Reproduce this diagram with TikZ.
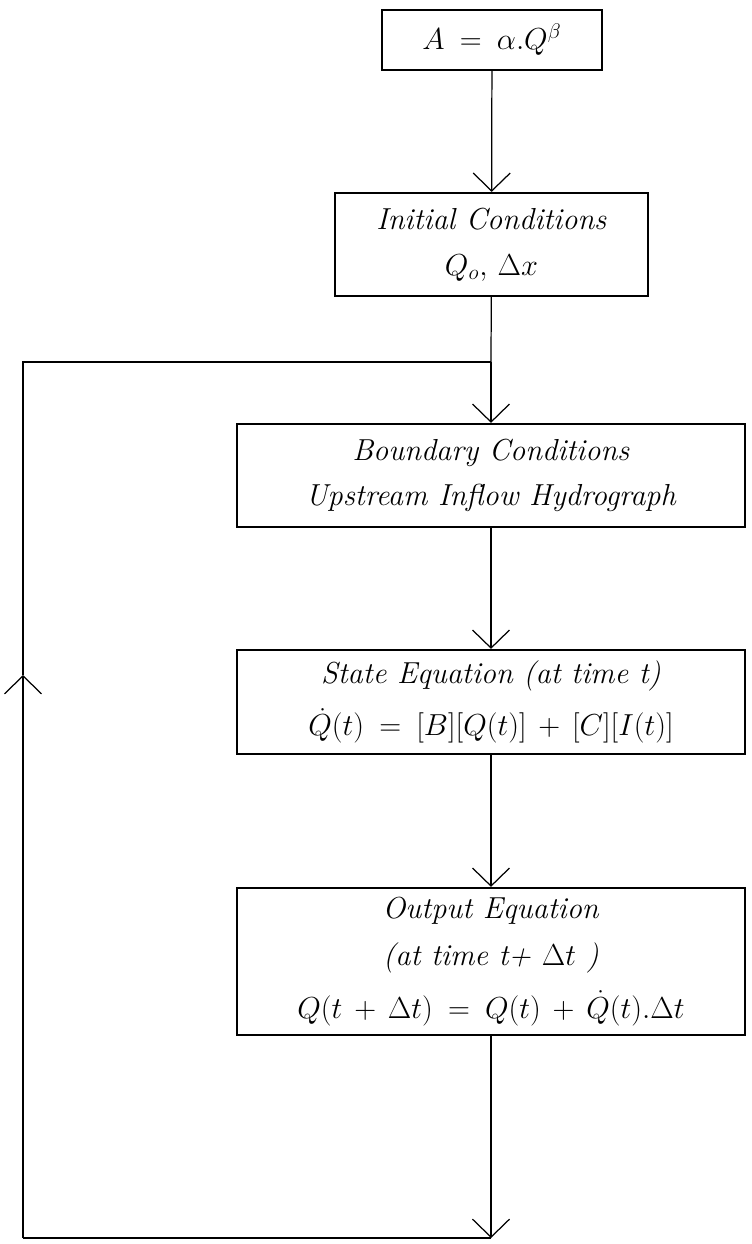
\documentclass[tikz,border=0pt]{standalone}
\usetikzlibrary{arrows.meta}
\tikzset{
  blk/.style={draw, line width=1.3pt, inner sep=0pt, align=center, font=\LARGE},
  flow/.style={line width=0.7pt, -{Straight Barb[length=0.36cm,width=0.74cm,line width=0.7pt]}},
  wire/.style={line width=0.7pt}
}
\newcommand{\wideops}{\thickmuskip=9mu plus 2mu\medmuskip=7mu plus 2mu}
\begin{document}
\begin{tikzpicture}[x=0.02cm,y=-0.02cm]
  \useasboundingbox (0,0) rectangle (751,1244);
  \node[blk, minimum width=4.4cm, minimum height=1.2cm] (eqn) at (492,40) {$\wideops A = \alpha.Q^\beta$};
  \node[blk, minimum width=6.26cm, minimum height=2.06cm] (init) at (491.5,244.5)
    {\textit{Initial Conditions}\\[4pt] $Q_o,\, \Delta x$};
  \node[blk, minimum width=10.16cm, minimum height=2.06cm] (bound) at (491,475.5)
    {\textit{Boundary Conditions}\\[4pt] \textit{Upstream Inflow Hydrograph}};
  \node[blk, minimum width=10.16cm, minimum height=2.08cm] (state) at (491,702)
    {\textit{State Equation (at time t)}\\[8pt] $\wideops \dot{Q}(t) = [B][Q(t)] + [C][I(t)]$};
  \node[blk, minimum width=10.16cm, minimum height=2.94cm] (output) at (491,961.5)
    {\textit{Output Equation}\\[5pt] \textit{(at time t+ $\Delta t$ )}\\[8pt] $\wideops Q(t + \Delta t) = Q(t) + \dot{Q}(t).\Delta t$};
  % loop back
  \coordinate (join) at (491,362);
  \coordinate (bot) at (491,1238);
  \coordinate (botleft) at (23,1238);
  \coordinate (mid) at (23,675);
  \coordinate (topleft) at (23,362);
  \draw[flow] (eqn) -- (init);
  \draw[wire] (init) -- (join);
  \draw[flow] (join) -- (bound);
  \draw[flow] (bound) -- (state);
  \draw[flow] (state) -- (output);
  \draw[flow] (output) -- (bot);
  \draw[wire] (bot) -- (botleft);
  \draw[flow] (botleft) -- (mid);
  \draw[wire] (mid) -- (topleft) -- (join);
\end{tikzpicture}
\end{document}
